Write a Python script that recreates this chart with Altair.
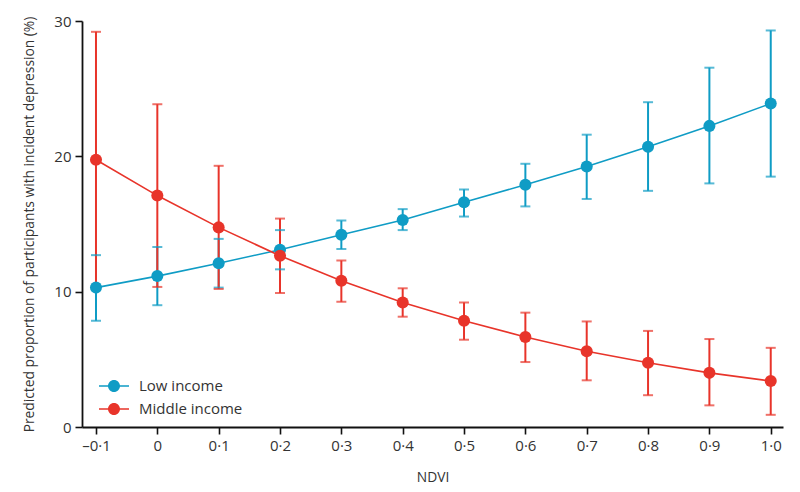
import altair as alt
import pandas as pd

ndvi = [-0.1, 0.0, 0.1, 0.2, 0.3, 0.4, 0.5, 0.6, 0.7, 0.8, 0.9, 1.0]
groups = ["Low income", "Middle income"]

low_est = [10.3, 11.15, 12.1, 13.1, 14.2, 15.3, 16.6, 17.9, 19.25, 20.7, 22.25, 23.9]
low_lo = [7.85, 9.0, 10.3, 11.65, 13.15, 14.55, 15.55, 16.3, 16.85, 17.45, 18.0, 18.5]
low_hi = [12.7, 13.3, 13.9, 14.55, 15.25, 16.1, 17.55, 19.45, 21.6, 24.0, 26.55, 29.3]

mid_est = [19.75, 17.1, 14.75, 12.65, 10.8, 9.2, 7.85, 6.65, 5.6, 4.75, 4.0, 3.4]
mid_lo = [10.3, 10.35, 10.2, 9.9, 9.25, 8.15, 6.45, 4.8, 3.45, 2.35, 1.6, 0.9]
mid_hi = [29.2, 23.85, 19.3, 15.4, 12.3, 10.25, 9.2, 8.45, 7.8, 7.1, 6.5, 5.85]

x_ticks = [-0.1, 0.0, 0.1, 0.2, 0.3, 0.4, 0.5, 0.6, 0.7, 0.8, 0.9, 1.0]
y_ticks = [0, 10, 20, 30]

colors = ["#0f9cc5", "#e8342a"]

rows = []
for g, est, lo, hi in [(groups[0], low_est, low_lo, low_hi), (groups[1], mid_est, mid_lo, mid_hi)]:
    for x, e, l, h in zip(ndvi, est, lo, hi):
        rows.append({"ndvi": x, "group": g, "est": e, "lo": l, "hi": h})
df = pd.DataFrame(rows)

FONT = "Open Sans"

xscale = alt.Scale(domain=[-0.1228, 1.02], nice=False, zero=False)
yscale = alt.Scale(domain=[0, 30], nice=False)
cscale = alt.Scale(domain=groups, range=colors)

x_axis = alt.Axis(
    values=x_ticks,
    labelExpr="datum.value == 0 ? '0' : (datum.value < 0 ? '\u2013' : '') + replace(format(abs(datum.value), '.1f'), '.', '\u00b7')",
    title="NDVI",
)
y_axis = alt.Axis(values=y_ticks, title="Predicted proportion of participants with incident depression (%)")

base = alt.Chart(df)

x_enc = alt.X("ndvi:Q", scale=xscale, axis=x_axis)

rules = base.mark_rule(strokeWidth=2).encode(
    x=x_enc,
    y=alt.Y("lo:Q", scale=yscale, axis=y_axis),
    y2="hi:Q",
    color=alt.Color("group:N", scale=cscale, legend=None),
)
caps_lo = base.mark_tick(orient="horizontal", size=10, thickness=2).encode(
    x=x_enc,
    y=alt.Y("lo:Q", scale=yscale),
    color=alt.Color("group:N", scale=cscale, legend=None),
)
caps_hi = base.mark_tick(orient="horizontal", size=10, thickness=2).encode(
    x=x_enc,
    y=alt.Y("hi:Q", scale=yscale),
    color=alt.Color("group:N", scale=cscale, legend=None),
)
lines = base.mark_line(strokeWidth=1.6).encode(
    x=x_enc,
    y=alt.Y("est:Q", scale=yscale),
    color=alt.Color("group:N", scale=cscale, legend=None),
    detail="group:N",
)

sym = ("M-1,-0.05L-0.38,-0.05L-0.38,0.05L-1,0.05Z "
       "M0.38,-0.05L1,-0.05L1,0.05L0.38,0.05Z "
       "M0.4,0A0.4,0.4,0,1,1,-0.4,0A0.4,0.4,0,1,1,0.4,0Z")

points = base.mark_point(filled=True, size=145, opacity=1).encode(
    x=x_enc,
    y=alt.Y("est:Q", scale=yscale),
    color=alt.Color(
        "group:N",
        scale=cscale,
        legend=alt.Legend(
            title=None,
            orient="none",
            legendX=17,
            legendY=350,
            symbolType=sym,
            symbolSize=900,
            symbolStrokeWidth=0,
            symbolOpacity=1,
            labelFont=FONT,
            labelFontSize=15,
            labelColor="#333333",
            labelOffset=10,
            rowPadding=0,
            padding=0,
        ),
    ),
)

chart = (
    alt.layer(rules, caps_lo, caps_hi, lines, points)
    .resolve_legend(color="independent")
    .properties(
        width=701,
        height=406,
        autosize=alt.AutoSizeParams(type="none"),
        padding={"left": 74, "top": 13, "right": 9, "bottom": 57},
        background="white",
    )
    .configure_view(stroke=None)
    .configure_axis(
        grid=False,
        domainColor="#111111",
        domainWidth=1.8,
        tickColor="#111111",
        tickWidth=1.6,
        tickSize=7,
        labelFont=FONT,
        labelFontSize=15,
        labelColor="#333333",
        titleFont=FONT,
        titleFontSize=13.8,
        titleFontWeight="normal",
        titleColor="#333333",
        labelPadding=4,
    )
    .configure_axisY(titlePadding=17)
    .configure_axisX(titlePadding=17)
)

chart.save("out.html", embed_options={"renderer": "svg", "actions": False})
